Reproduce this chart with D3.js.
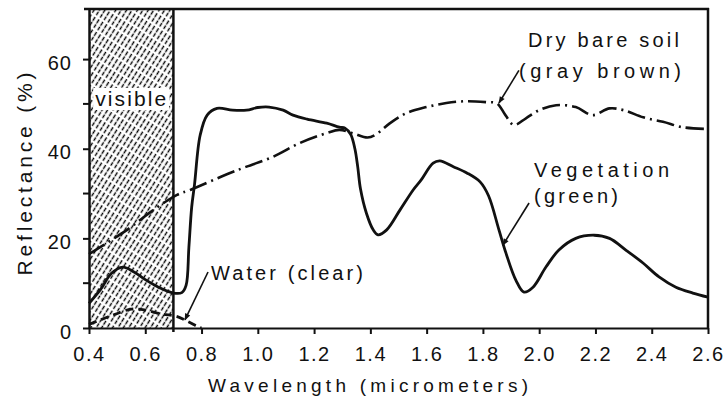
<!DOCTYPE html>
<html>
<head>
<meta charset="utf-8">
<script src="https://cdn.jsdelivr.net/npm/d3@7"></script>
<style>
  html, body { margin: 0; padding: 0; background: #fff; }
  svg { display: block; }
  text { font-family: "Liberation Sans", Arial, sans-serif; fill: #111; }
</style>
</head>
<body>
<svg id="chart" width="726" height="398"></svg>
<script>
// Spectral reflectance curves: [wavelength (µm), reflectance (%)]
const vegetation = [
  [0.40, 5.5], [0.44, 8.5], [0.48, 12.2], [0.52, 13.6], [0.56, 12.5], [0.60, 10.8],
  [0.65, 9.0], [0.70, 7.8], [0.73, 7.9], [0.745, 9.5], [0.755, 18], [0.765, 27],
  [0.775, 32], [0.795, 43], [0.82, 47.5], [0.855, 49], [0.91, 48.6], [0.96, 48.6],
  [1.00, 49.2], [1.04, 49.3], [1.09, 48.6], [1.125, 47.5], [1.175, 46.6], [1.245, 45.7],
  [1.29, 44.8], [1.31, 44.6], [1.33, 43.2], [1.345, 40], [1.355, 36], [1.365, 31],
  [1.386, 25.6], [1.41, 21.9], [1.427, 20.8], [1.458, 21.9], [1.505, 26.3], [1.552, 30.8],
  [1.58, 33], [1.623, 36.8], [1.647, 37.3], [1.695, 36], [1.743, 34.6], [1.79, 32.6],
  [1.82, 29.5], [1.857, 21.9], [1.882, 16.7], [1.917, 10.7], [1.946, 8.0], [1.978, 9.1],
  [2.024, 13.6], [2.07, 17.4], [2.13, 20], [2.195, 20.7], [2.25, 20], [2.308, 17.4],
  [2.369, 14.5], [2.426, 11.4], [2.486, 9.1], [2.546, 7.8], [2.60, 6.9]
];
const drySoil = [
  [0.40, 16.5], [0.535, 21.9], [0.628, 26.3], [0.713, 29.7], [0.76, 30.8], [0.89, 34.3],
  [0.96, 36], [1.054, 38.2], [1.15, 41.3], [1.245, 43.5], [1.29, 44.2], [1.34, 43.4],
  [1.39, 42.5], [1.42, 43.2], [1.47, 45.7], [1.53, 48], [1.60, 49.3], [1.67, 50.2],
  [1.74, 50.6], [1.81, 50.4], [1.85, 50.1], [1.88, 47.5], [1.91, 45.3], [1.953, 46.8],
  [2.00, 48.6], [2.06, 49.7], [2.13, 49.3], [2.19, 47.5], [2.25, 49], [2.30, 48.6],
  [2.37, 47], [2.44, 46], [2.51, 44.8], [2.60, 44.4]
];
const water = [
  [0.40, 0.8], [0.44, 1.8], [0.49, 3.0], [0.55, 4.2], [0.60, 4.0], [0.66, 3.1],
  [0.71, 2.6], [0.75, 1.5], [0.79, 0.2], [0.80, 0]
];

const wavelengthTicks = [0.4, 0.6, 0.8, 1.0, 1.2, 1.4, 1.6, 1.8, 2.0, 2.2, 2.4, 2.6];
const reflectanceTicks = [0, 20, 40, 60];
const reflectanceMinorTicks = [10, 30, 50];
const visibleBand = [0.4, 0.7];

const xTitle = "Wavelength (micrometers)";
const yTitle = "Reflectance (%)";
const visibleLabel = "visible";

const svg = d3.select("#chart");

const x = d3.scaleLinear().domain([0.4, 2.6]).range([89, 708]);
const y = d3.scaleLinear().domain([0, 71.4]).range([328, 8]);

const [yBottom, yTop] = y.range();

// hatch pattern for the visible band
const defs = svg.append("defs");
defs.append("pattern")
  .attr("id", "hatch")
  .attr("patternUnits", "userSpaceOnUse")
  .attr("width", 4.6).attr("height", 12)
  .attr("patternTransform", "rotate(32)")
  .append("line")
  .attr("x1", 2.3).attr("y1", 0).attr("x2", 2.3).attr("y2", 12)
  .attr("stroke", "#000").attr("stroke-width", 1.4)
  .attr("stroke-dasharray", "4.5 1.2 4 2.3");

defs.append("marker")
  .attr("id", "arrow")
  .attr("viewBox", "0 0 10 10")
  .attr("refX", 9).attr("refY", 5)
  .attr("markerUnits", "userSpaceOnUse")
  .attr("markerWidth", 12).attr("markerHeight", 7)
  .attr("orient", "auto")
  .append("path")
  .attr("d", "M0,1 L10,5 L0,9 Z")
  .attr("fill", "#111");

// visible band
svg.append("rect")
  .attr("x", x(visibleBand[0])).attr("y", yTop)
  .attr("width", x(visibleBand[1]) - x(visibleBand[0]))
  .attr("height", yBottom - yTop)
  .attr("fill", "url(#hatch)");

const visCx = (x(visibleBand[0]) + x(visibleBand[1])) / 2;
svg.append("rect")
  .attr("x", visCx - 38).attr("y", 88)
  .attr("width", 76).attr("height", 22)
  .attr("fill", "#fff");
svg.append("text")
  .attr("x", visCx - 36).attr("y", 106)
  .attr("font-size", 21)
  .attr("textLength", 71).attr("lengthAdjust", "spacing")
  .text(visibleLabel);

svg.append("line")
  .attr("x1", x(visibleBand[1])).attr("x2", x(visibleBand[1]))
  .attr("y1", yTop).attr("y2", yBottom + 4)
  .attr("stroke", "#111").attr("stroke-width", 2.5);

// axes
const xAxis = d3.axisBottom(x)
  .tickValues(wavelengthTicks)
  .tickFormat(d3.format(".1f"))
  .tickSize(6).tickSizeOuter(0).tickPadding(13);
const gx = svg.append("g").attr("transform", `translate(0,${yBottom})`).call(xAxis);
gx.select(".domain").attr("stroke", "#111").attr("stroke-width", 2);
gx.selectAll(".tick line").attr("stroke", "#111").attr("stroke-width", 2);
gx.selectAll(".tick text").attr("font-size", 20).attr("fill", "#111")
  .attr("font-family", "Liberation Sans, Arial, sans-serif")
  .attr("letter-spacing", 1.5);

const yAxis = d3.axisLeft(y)
  .tickValues(reflectanceTicks)
  .tickSize(6).tickSizeOuter(0).tickPadding(11);
const gy = svg.append("g").attr("transform", `translate(${x.range()[0]},0)`).call(yAxis);
gy.select(".domain").attr("stroke", "#111").attr("stroke-width", 2.5);
gy.selectAll(".tick line").attr("stroke", "#111").attr("stroke-width", 2);
gy.selectAll(".tick text").attr("font-size", 20).attr("fill", "#111")
  .attr("font-family", "Liberation Sans, Arial, sans-serif")
  .attr("dy", "0.5em").attr("letter-spacing", 1);

svg.append("g").selectAll("line")
  .data(reflectanceMinorTicks).join("line")
  .attr("x1", x.range()[0] - 6).attr("x2", x.range()[0])
  .attr("y1", d => y(d)).attr("y2", d => y(d))
  .attr("stroke", "#111").attr("stroke-width", 2);

// frame top and right
svg.append("line")
  .attr("x1", x.range()[0] - 5).attr("x2", x.range()[1] + 1)
  .attr("y1", yTop + 1).attr("y2", yTop + 1)
  .attr("stroke", "#111").attr("stroke-width", 2.5);
svg.append("line")
  .attr("x1", x.range()[1]).attr("x2", x.range()[1])
  .attr("y1", yTop).attr("y2", yBottom)
  .attr("stroke", "#111").attr("stroke-width", 2.5);

// curves
const line = d3.line()
  .x(d => x(d[0])).y(d => y(d[1]))
  .curve(d3.curveCatmullRom.alpha(0.5));

svg.append("path").datum(vegetation)
  .attr("d", line).attr("fill", "none")
  .attr("stroke", "#111").attr("stroke-width", 2.8)
  .attr("stroke-linejoin", "round");

svg.append("path").datum(drySoil)
  .attr("d", line).attr("fill", "none")
  .attr("stroke", "#111").attr("stroke-width", 2.6)
  .attr("stroke-dasharray", "18 5 2 5");

svg.append("path").datum(water)
  .attr("d", line).attr("fill", "none")
  .attr("stroke", "#111").attr("stroke-width", 2.8)
  .attr("stroke-dasharray", "8 5");

// annotations: label lines, arrow from tail to a point on the curve
const annotations = [
  { lines: ["Dry bare soil", "(gray brown)"], tail: [1.928, 57.5], tip: [1.857, 50.2],
    text: [{ x: 528, y: 47, w: 151 }, { x: 519, y: 78, w: 162 }] },
  { lines: ["Vegetation", "(green)"], tail: [1.964, 27.9], tip: [1.871, 18.5],
    text: [{ x: 534, y: 177, w: 135 }, { x: 534, y: 203, w: 84 }] },
  { lines: ["Water (clear)"], tail: [0.823, 12.5], tip: [0.741, 1.8],
    text: [{ x: 211, y: 280, w: 152 }] }
];

annotations.forEach(a => {
  a.lines.forEach((s, i) => {
    svg.append("text")
      .attr("x", a.text[i].x).attr("y", a.text[i].y)
      .attr("font-size", 20)
      .attr("textLength", a.text[i].w).attr("lengthAdjust", "spacing")
      .text(s);
  });
  svg.append("line")
    .attr("x1", x(a.tail[0])).attr("y1", y(a.tail[1]))
    .attr("x2", x(a.tip[0])).attr("y2", y(a.tip[1]))
    .attr("stroke", "#111").attr("stroke-width", 1.6)
    .attr("marker-end", "url(#arrow)");
});

// axis titles
svg.append("text")
  .attr("x", 368).attr("y", 392)
  .attr("text-anchor", "middle")
  .attr("font-size", 19)
  .attr("textLength", 320).attr("lengthAdjust", "spacing")
  .text(xTitle);

svg.append("text")
  .attr("transform", "translate(32,174) rotate(-90)")
  .attr("text-anchor", "middle")
  .attr("font-size", 21)
  .attr("textLength", 203).attr("lengthAdjust", "spacing")
  .text(yTitle);
</script>
</body>
</html>
